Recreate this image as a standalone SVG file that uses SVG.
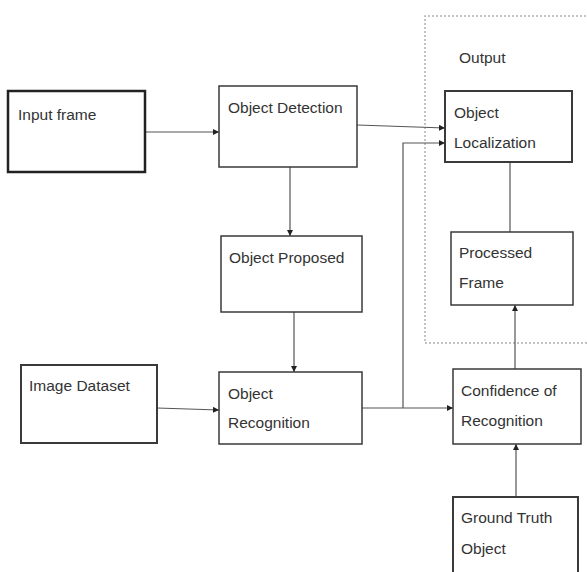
<svg xmlns="http://www.w3.org/2000/svg" width="587" height="572" viewBox="0 0 587 572">
<defs>
<marker id="ah" viewBox="0 0 6 6" refX="6" refY="3" markerWidth="6" markerHeight="6" orient="auto" markerUnits="userSpaceOnUse">
<path d="M0,0 L6,3 L0,6 Z" fill="#222"/>
</marker>
<style>
.box{fill:#fff;stroke:#3a3a3a;stroke-width:1.5}
.thick{stroke:#222;stroke-width:2.5}
.lbl{font-family:"Liberation Sans",Arial,sans-serif;font-size:15.5px;fill:#333}
.c{fill:none;stroke:#555;stroke-width:1.2}
.a{marker-end:url(#ah)}
.frame{fill:none;stroke:#b0b0b0;stroke-width:1.5;stroke-dasharray:2 2}
</style>
</defs>
<rect width="587" height="572" fill="#fff"/>
<g id="output-frame">
<path class="frame" d="M590,16 L425,16 L425,343 L590,343"/>
<text class="lbl" x="459" y="63">Output</text>
</g>
<g id="connectors">
<line class="c a" x1="145" y1="132" x2="219" y2="132"/>
<line class="c a" x1="290" y1="167" x2="290" y2="236"/>
<line class="c a" x1="294" y1="312" x2="294" y2="372"/>
<line class="c a" x1="157" y1="408" x2="219" y2="410"/>
<line class="c a" x1="362" y1="408" x2="453" y2="408"/>
<polyline class="c a" points="403,408 403,143 445,143"/>
<line class="c a" x1="357" y1="125" x2="445" y2="128"/>
<line class="c" x1="510" y1="162" x2="510" y2="232"/>
<line class="c a" x1="515" y1="369" x2="515" y2="305"/>
<line class="c a" x1="516" y1="497" x2="516" y2="444"/>
</g>
<g id="input-frame">
<rect class="box thick" x="8" y="91" width="137" height="81"/>
<text class="lbl" x="18" y="120">Input frame</text>
</g>
<g id="object-detection">
<rect class="box" x="219" y="86" width="138" height="81"/>
<text class="lbl" x="228" y="113">Object Detection</text>
</g>
<g id="object-proposed">
<rect class="box" x="221" y="236" width="141" height="76"/>
<text class="lbl" x="229" y="263">Object Proposed</text>
</g>
<g id="image-dataset">
<rect class="box" x="21" y="365" width="136" height="78" style="stroke-width:2"/>
<text class="lbl" x="29" y="391">Image Dataset</text>
</g>
<g id="object-recognition">
<rect class="box" x="219" y="372" width="143" height="72"/>
<text class="lbl" x="228" y="399">Object</text>
<text class="lbl" x="228" y="428">Recognition</text>
</g>
<g id="object-localization">
<rect class="box" x="445" y="91" width="127" height="71" style="stroke-width:2"/>
<text class="lbl" x="454" y="118">Object</text>
<text class="lbl" x="454" y="148">Localization</text>
</g>
<g id="processed-frame">
<rect class="box" x="451" y="232" width="122" height="73"/>
<text class="lbl" x="459" y="258">Processed</text>
<text class="lbl" x="459" y="288">Frame</text>
</g>
<g id="confidence">
<rect class="box" x="453" y="369" width="128" height="75"/>
<text class="lbl" x="461" y="396">Confidence of</text>
<text class="lbl" x="461" y="426">Recognition</text>
</g>
<g id="ground-truth">
<rect class="box" x="453" y="497" width="125" height="90" style="stroke-width:2"/>
<text class="lbl" x="461" y="523">Ground Truth</text>
<text class="lbl" x="461" y="554">Object</text>
</g>
</svg>
